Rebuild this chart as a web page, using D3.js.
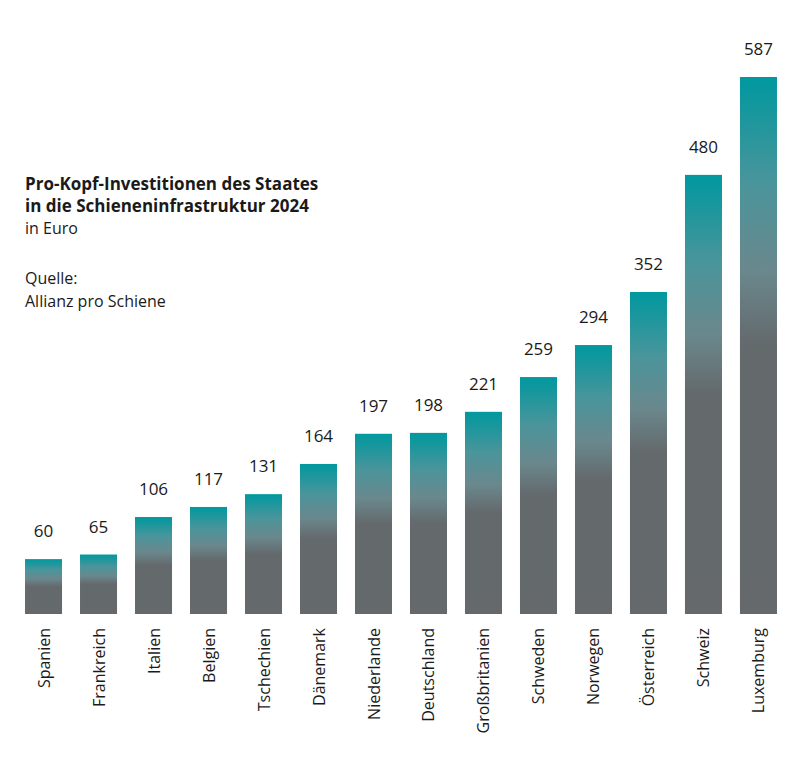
<!DOCTYPE html>
<html><head><meta charset="utf-8">
<script src="https://cdn.jsdelivr.net/npm/d3@7"></script>
<style>
body{margin:0;background:#fff}
text{font-family:"Liberation Sans Narrow","Arial Narrow","Open Sans",sans-serif;fill:#1a1a1a}
</style></head>
<body><svg id="c" width="800" height="758"></svg>
<script>
const countries = ["Spanien","Frankreich","Italien","Belgien","Tschechien","Dänemark","Niederlande","Deutschland","Großbritanien","Schweden","Norwegen","Österreich","Schweiz","Luxemburg"];
const values    = [60,65,106,117,131,164,197,198,221,259,294,352,480,587];
const titleLines = ["Pro-Kopf-Investitionen des Staates","in die Schieneninfrastruktur 2024"];
const noteLines  = [["in Euro",234],["Quelle:",284],["Allianz pro Schiene",307]];

const svg = d3.select("#c");

// Verlauf: oben petrol, unten grau
const grad = svg.append("defs").append("linearGradient")
    .attr("id","g").attr("x1",0).attr("y1",0).attr("x2",0).attr("y2",1);
[[0,"#00999f"],[0.06,"#15979d"],[0.2,"#4a959b"],[0.36,"#6a888d"],[0.5,"#64696c"],[1,"#65696c"]]
    .forEach(s => grad.append("stop").attr("offset",s[0]).attr("stop-color",s[1]));

const x = d3.scaleBand().domain(countries).range([16,786]).paddingInner(0.327).paddingOuter(0.164);
const y = d3.scaleLinear().domain([0,587]).range([614,77]);

const data = countries.map((c,i) => ({c, v: values[i]}));

svg.selectAll("rect.bar").data(data).join("rect")
    .attr("class","bar")
    .attr("x", d => x(d.c)).attr("width", x.bandwidth())
    .attr("y", d => y(d.v)).attr("height", d => y(0) - y(d.v))
    .attr("fill","url(#g)");

svg.selectAll("text.val").data(data).join("text")
    .attr("class","val")
    .attr("x", d => x(d.c) + x.bandwidth()/2).attr("y", d => y(d.v) - 22)
    .attr("text-anchor","middle").attr("font-size",17)
    .text(d => d.v);

// Achsenbeschriftung, gedreht
svg.selectAll("text.cat").data(data).join("text")
    .attr("class","cat")
    .attr("transform", d => `translate(${x(d.c) + x.bandwidth()/2 + 6},628) rotate(-90)`)
    .attr("text-anchor","end").attr("font-size",16)
    .text(d => d.c);

titleLines.forEach((t,i) => svg.append("text")
    .attr("x",25).attr("y",190 + i*22).attr("font-size",17).attr("font-weight","bold").text(t));
noteLines.forEach(n => svg.append("text")
    .attr("x",25).attr("y",n[1]).attr("font-size",16).text(n[0]));
</script></body></html>
